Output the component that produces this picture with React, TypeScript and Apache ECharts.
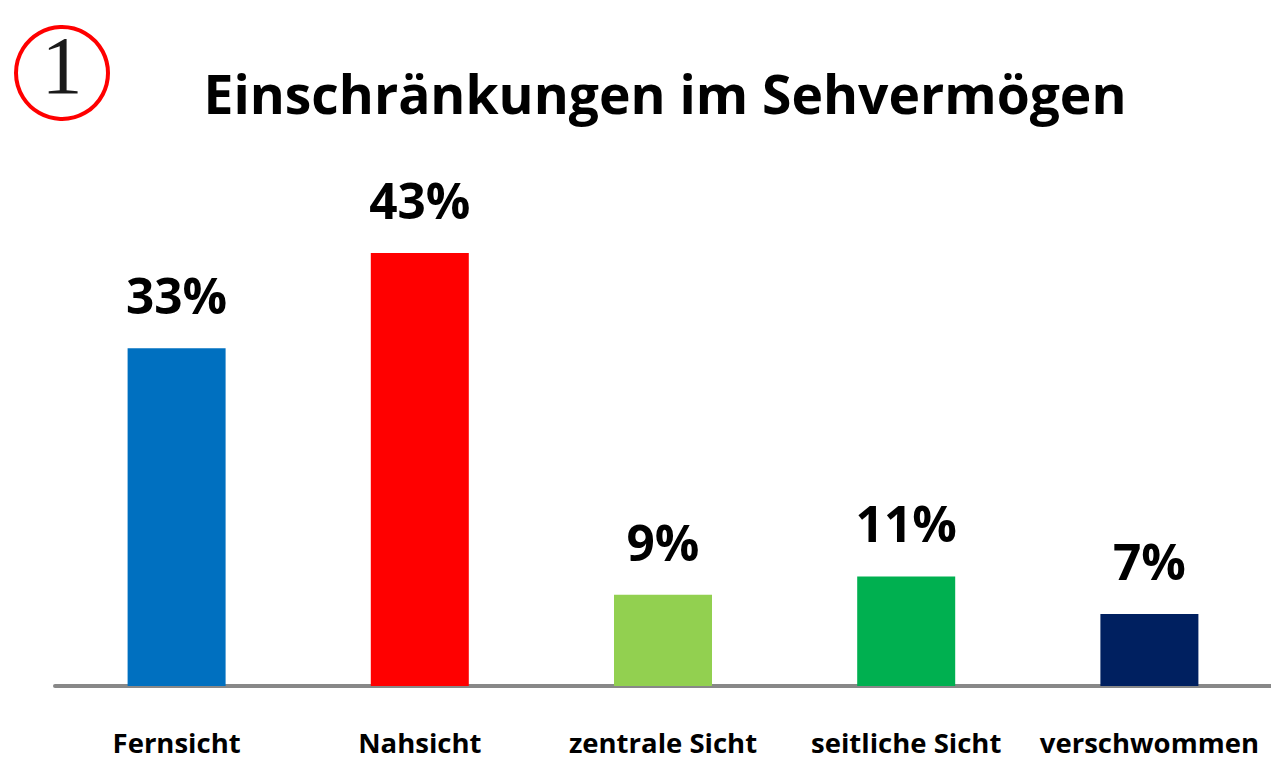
import React, { useEffect, useRef } from "react";
import * as echarts from "echarts";

const categories = ["Fernsicht", "Nahsicht", "zentrale Sicht", "seitliche Sicht", "verschwommen"];
const values = [33.3, 42.7, 9.0, 10.8, 7.1];
const barColors = ["#0070C0", "#FF0000", "#92D050", "#00B050", "#002060"];
const titleText = "Einschränkungen im Sehvermögen";
const badgeText = "1";

export default function App() {
  const ref = useRef<HTMLDivElement>(null);
  useEffect(() => {
    document.body.style.margin = "0";
    const chart = echarts.init(ref.current!, null, { renderer: "svg" });
    chart.setOption({
      animation: false,
      backgroundColor: "#ffffff",
      title: {
        text: titleText,
        left: 660,
        top: 62,
        textAlign: "center",
        textStyle: { fontFamily: "Open Sans", fontWeight: "bold", fontSize: 53.4, color: "#000000" },
      },
      graphic: [
        {
          type: "circle",
          shape: { cx: 62, cy: 73, r: 46 },
          style: { fill: "none", stroke: "#FF0000", lineWidth: 4 },
        },
        {
          type: "text",
          x: 62,
          y: 65,
          style: {
            text: badgeText,
            fontFamily: "Liberation Serif",
            fontSize: 82,
            fill: "#1a1a1a",
            align: "center",
            verticalAlign: "middle",
          },
        },
      ],
      grid: { left: 55, width: 1220, top: 77.6, bottom: 77, containLabel: false },
      xAxis: {
        type: "category",
        data: categories,
        offset: 2,
        axisLine: { show: true, lineStyle: { color: "#888888", width: 4, cap: "round" } },
        axisTick: { show: false },
        axisLabel: {
          interval: 0,
          margin: 41,
          fontFamily: "Open Sans",
          fontWeight: "bold",
          fontSize: 27.5,
          lineHeight: 27,
          color: "#000000",
        },
      },
      yAxis: {
        type: "value",
        min: 0,
        max: 60,
        show: false,
        splitLine: { show: false },
      },
      series: [
        {
          type: "bar",
          barWidth: 98,
          data: values.map((v, i) => ({ value: v, itemStyle: { color: barColors[i] } })),
          label: {
            show: true,
            position: "top",
            distance: 28,
            formatter: (p: any) => Math.round(p.value) + "%",
            fontFamily: "Open Sans",
            fontWeight: "bold",
            fontSize: 49.5,
            color: "#000000",
          },
        },
      ],
    });
    return () => chart.dispose();
  }, []);
  return <div ref={ref} style={{ width: 1271, height: 763 }} />;
}
